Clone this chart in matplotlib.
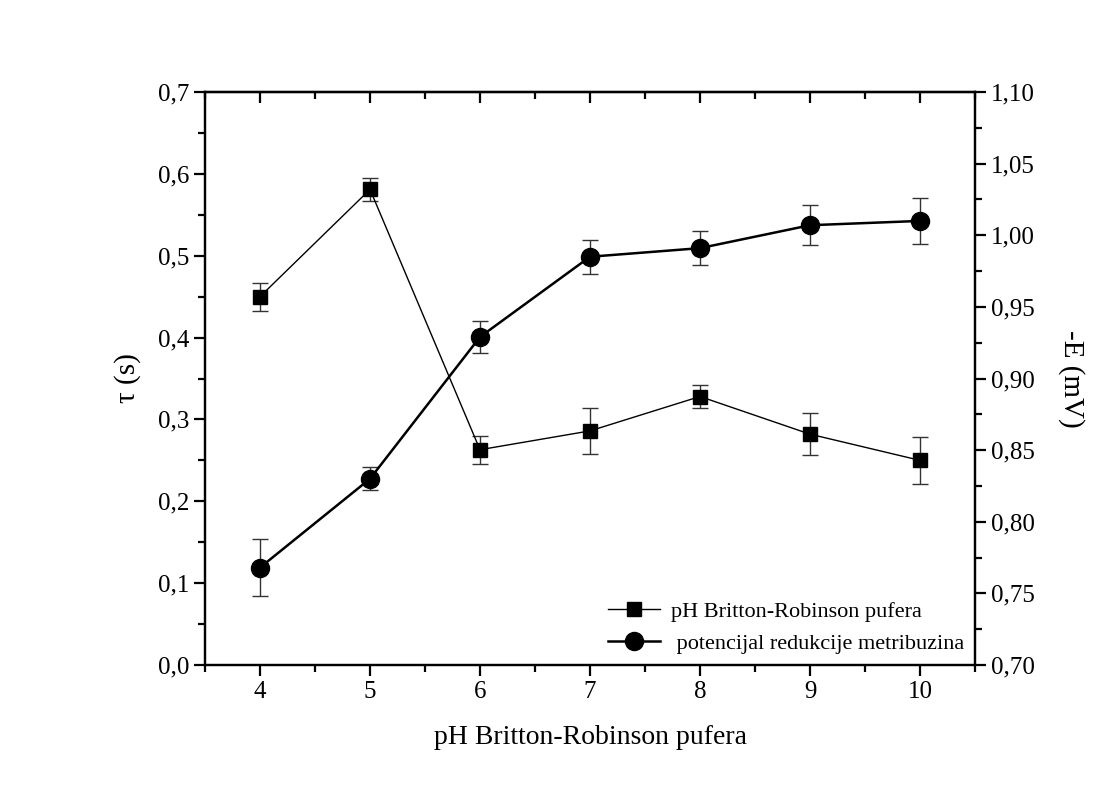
import matplotlib
matplotlib.use('Agg')
import matplotlib.pyplot as plt
from matplotlib.lines import Line2D
from matplotlib.ticker import MultipleLocator, FuncFormatter

plt.rcParams['font.family'] = ['Liberation Serif', 'DejaVu Serif']

ph = [4, 5, 6, 7, 8, 9, 10]
tau = [0.450, 0.581, 0.263, 0.286, 0.328, 0.282, 0.250]
tau_err = [0.017, 0.014, 0.017, 0.028, 0.014, 0.026, 0.029]
pot = [0.768, 0.830, 0.929, 0.985, 0.991, 1.007, 1.010]
pot_err = [0.020, 0.008, 0.011, 0.012, 0.012, 0.014, 0.016]

fig = plt.figure(figsize=(11.13, 7.91), dpi=100)
ax = fig.add_axes([205/1113, 1-665/791, 770/1113, 573/791])
ax2 = ax.twinx()

ax.errorbar(ph, tau, yerr=tau_err, color='black', lw=1, marker='s', ms=10,
            capsize=6, elinewidth=1, ecolor='#333333', capthick=1)
ax2.errorbar(ph, pot, yerr=pot_err, color='black', lw=1.8, marker='o', ms=13,
             capsize=6, elinewidth=1, ecolor='#333333', capthick=1)

ax.set_xlim(3.5, 10.5)
ax.set_ylim(0, 0.7)
ax2.set_ylim(0.70, 1.10)

ax.xaxis.set_major_locator(MultipleLocator(1))
ax.xaxis.set_minor_locator(MultipleLocator(0.5))
ax.yaxis.set_major_locator(MultipleLocator(0.1))
ax.yaxis.set_minor_locator(MultipleLocator(0.05))
ax2.yaxis.set_major_locator(MultipleLocator(0.05))
ax2.yaxis.set_minor_locator(MultipleLocator(0.025))

ax.yaxis.set_major_formatter(FuncFormatter(lambda v, p: f'{v:.1f}'.replace('.', ',')))
ax2.yaxis.set_major_formatter(FuncFormatter(lambda v, p: f'{v:.2f}'.replace('.', ',')))

for a in (ax, ax2):
    for s in a.spines.values():
        s.set_linewidth(1.6)
    a.tick_params(which='major', direction='out', length=8, width=1.6, labelsize=18)
    a.tick_params(which='minor', direction='out', length=5, width=1.6)

top = ax.secondary_xaxis('top')
top.xaxis.set_major_locator(MultipleLocator(1))
top.xaxis.set_minor_locator(MultipleLocator(0.5))
top.tick_params(which='major', direction='in', length=8, width=1.6, labeltop=False)
top.tick_params(which='minor', direction='in', length=5, width=1.6)
top.spines['top'].set_linewidth(1.6)

ax.set_xlabel('pH Britton-Robinson pufera', fontsize=20, labelpad=16)
ax.set_ylabel('τ (s)', fontsize=21, labelpad=12)
ax2.set_ylabel('-E (mV)', fontsize=21, rotation=270, labelpad=36)

h1 = Line2D([], [], color='black', lw=1, marker='s', ms=10)
h2 = Line2D([], [], color='black', lw=1.8, marker='o', ms=13)
ax.legend([h1, h2], ['pH Britton-Robinson pufera', ' potencijal redukcije metribuzina'],
          loc='lower right', frameon=False, fontsize=16, handlelength=2.3,
          handletextpad=0.5, borderaxespad=0.1, labelspacing=0.5)

fig.savefig('out.png', dpi=100)
